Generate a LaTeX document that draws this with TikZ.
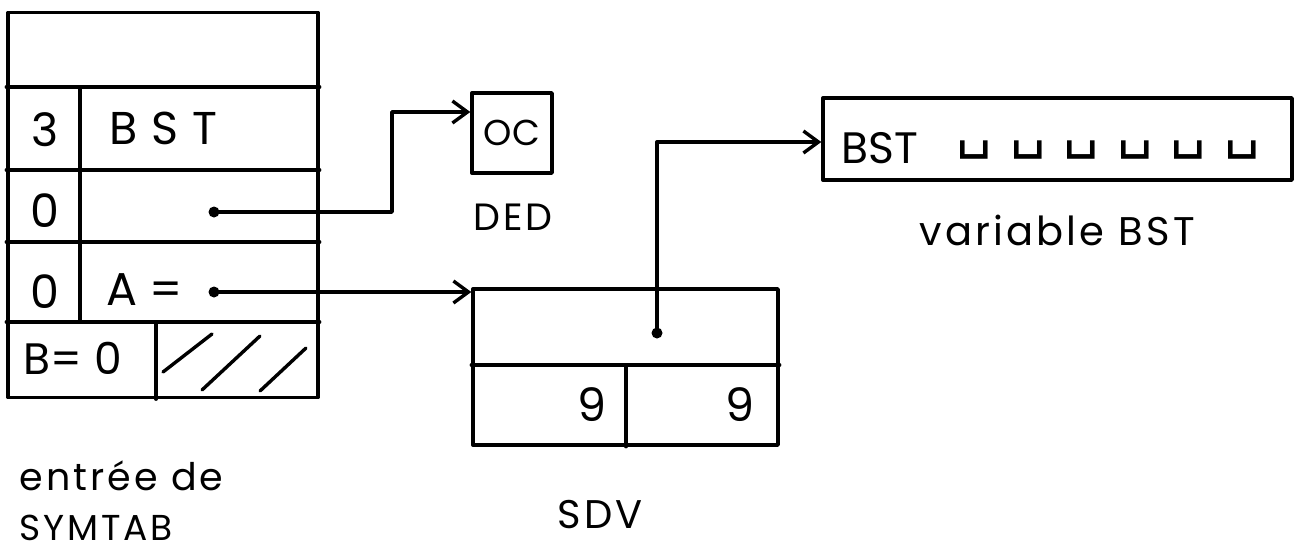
\documentclass[tikz,border=0pt]{standalone}
\usepackage{fontspec}
\setmainfont{Poppins}
\newfontfamily\widefont[LetterSpace=30]{Poppins}
\newfontfamily\semiwide[LetterSpace=8]{Poppins}
\newfontfamily\symfont{DejaVu Sans}
\usetikzlibrary{arrows.meta}
\begin{document}
\begin{tikzpicture}[x=1pt,y=-1pt,
  line width=3.4pt, line cap=round, line join=round,
  box/.style={draw, inner sep=0pt},
  lbl/.style={inner sep=0pt, anchor=center},
  big/.style={font=\fontsize{46}{50}\selectfont},
  mid/.style={font=\semiwide\fontsize{40}{44}\selectfont},
  small/.style={font=\semiwide\fontsize{38}{42}\selectfont},
  arr/.style={-{Straight Barb[length=15pt,width=22pt,line width=3.4pt]}},
  dot/.style={circle, fill, inner sep=0pt, minimum size=11pt}]
\useasboundingbox (0,0) rectangle (1308,557);
% SYMTAB entry
\node[box, minimum width=310pt, minimum height=385pt] (tab) at (163,205) {};
\draw (tab.west |- 0,87) -- (tab.east |- 0,87);
\draw (tab.west |- 0,170) -- (tab.east |- 0,170);
\draw (tab.west |- 0,242) -- (tab.east |- 0,242);
\draw (tab.west |- 0,322) -- (tab.east |- 0,322);
\draw (80,87) -- (80,322);
\draw (156,322) -- (tab.south -| 156,0);
\draw (163,372) -- (212,334);
\draw (202,390) -- (260,336);
\draw (260,391) -- (306,348);
\node[lbl, big] (n3) at (45,130) {3};
\node[lbl, font=\widefont\fontsize{46}{50}\selectfont, anchor=west] (bst1) at (108,128) {BST};
\node[lbl, big] (n0a) at (45,211) {0};
\node[lbl, big] (n0b) at (45,292) {0};
\node[lbl, big, anchor=west] (aeq) at (105,290) {A =};
\node[lbl, font=\fontsize{44}{48}\selectfont, anchor=west] (beq) at (22,358) {B= 0};
\node[dot] (d1) at (214,212) {};
\node[dot] (d2) at (214,292) {};
% DED
\node[box, minimum width=80pt, minimum height=80pt, font=\fontsize{36}{40}\selectfont] (ded) at (512,133) {OC};
\node[lbl, small] (dedl) at (513,217) {DED};
% SDV
\node[box, minimum width=305pt, minimum height=156pt] (sdv) at (625.5,367) {};
\draw (sdv.west |- 0,365) -- (sdv.east |- 0,365);
\draw (626,365) -- (sdv.south -| 626,0);
\node[lbl, big] (g1) at (592,405) {9};
\node[lbl, big] (g2) at (740,405) {9};
\node[lbl, mid] (sdvl) at (600,515) {SDV};
\node[dot] (d3) at (657,333) {};
% variable BST
\node[box, minimum width=469pt, minimum height=82pt] (var) at (1057.5,139) {};
\node[lbl, font=\fontsize{44}{48}\selectfont, anchor=west] (bst2) at (840,148) {BST};
\node[lbl, font=\symfont\fontsize{56}{60}\selectfont, anchor=west] (blanks) at (955,150) {␣\hspace{18pt}␣\hspace{18pt}␣\hspace{18pt}␣\hspace{18pt}␣\hspace{18pt}␣};
\node[lbl, mid] (varl) at (1057,230) {variable BST};
% labels
\node[lbl, font=\semiwide\fontsize{38}{42}\selectfont, anchor=west] (ent) at (18,476) {entrée de};
\node[lbl, font=\semiwide\fontsize{36}{40}\selectfont, anchor=west] (sym) at (18,528) {SYMTAB};
% connectors
\coordinate (t1) at (ded.west |- 0,112);
\coordinate (t2) at (sdv.north west |- d2);
\coordinate (t3) at (var.west |- 0,142);
\draw[arr] (d1.center) -- (392,212) |- (t1);
\draw[arr] (d2.center) -- (t2);
\draw[arr] (d3.center) |- (t3);
\end{tikzpicture}
\end{document}
